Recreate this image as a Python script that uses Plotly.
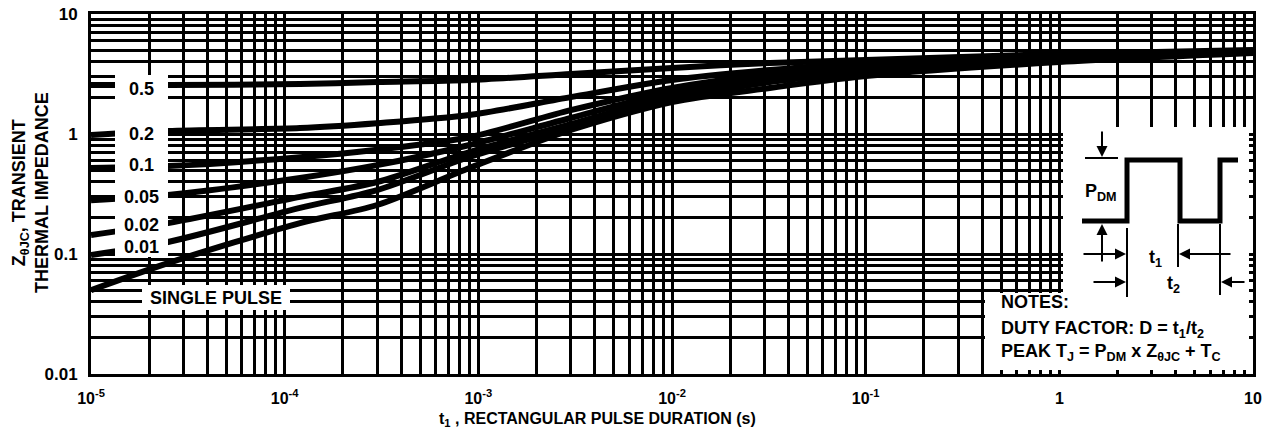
import plotly.graph_objects as go

# ---------------- data ----------------
t_s = [1e-5, 2.5e-5, 1.2e-4, 3e-4, 9e-4, 3e-3, 1e-2, 3.2e-2, 0.1, 1, 10]
z_d05 = [2.56, 2.56, 2.61, 2.71, 2.82, 3.16, 3.55, 3.91, 4.14, 4.64, 5.01]
z_d02 = [0.98, 1.06, 1.12, 1.23, 1.44, 2.03, 2.82, 3.41, 3.91, 4.47, 4.92]
z_d01 = [0.52, 0.54, 0.64, 0.74, 0.94, 1.58, 2.42, 3.16, 3.69, 4.38, 4.87]
z_d005 = [0.28, 0.31, 0.43, 0.55, 0.81, 1.36, 2.24, 2.98, 3.55, 4.30, 4.82]
z_d002 = [0.144, 0.181, 0.299, 0.398, 0.708, 1.21, 2.07, 2.82, 3.41, 4.22, 4.82]
z_d001 = [0.098, 0.126, 0.242, 0.341, 0.643, 1.14, 1.96, 2.71, 3.29, 4.14, 4.77]
z_single = [0.05, 0.084, 0.181, 0.256, 0.521, 1.08, 1.85, 2.42, 3.04, 3.98, 4.73]

series_labels = ["0.5", "0.2", "0.1", "0.05", "0.02", "0.01"]
x_major = [1e-5, 1e-4, 1e-3, 1e-2, 1e-1, 1, 10]
x_major_text = ["10<sup>-5</sup>", "10<sup>-4</sup>", "10<sup>-3</sup>",
                "10<sup>-2</sup>", "10<sup>-1</sup>", "1", "10"]
y_major = [0.01, 0.1, 1, 10]
y_major_text = ["0.01", "0.1", "1", "10"]

# ---------------- layout geometry (pixels) ----------------
W, H = 1277, 440
L, R, T, B = 91, 1253, 14, 374


def px(xp):
    return (xp - L) / (R - L)


def py(yp):
    return (B - yp) / (B - T)


FONT = "Liberation Sans, Arial, Helvetica, sans-serif"

fig = go.Figure()
for z in [z_d05, z_d02, z_d01, z_d005, z_d002, z_d001, z_single]:
    fig.add_trace(go.Scatter(x=t_s, y=z, mode="lines",
                             line=dict(color="black", width=6, shape="spline", smoothing=0.8),
                             showlegend=False, hoverinfo="skip"))

# minor grid positions (2..9 in every decade)
x_minor = [k * 10 ** n for n in range(-5, 1) for k in range(2, 10)]
y_minor = [k * 10 ** n for n in range(-2, 1) for k in range(2, 10)]

axis_common = dict(type="log", showgrid=True, gridcolor="black", gridwidth=2.6,
                   showline=True, linecolor="black", linewidth=3, mirror=True,
                   ticks="", zeroline=False, tickmode="array", automargin=False)
fig.update_xaxes(range=[-5, 1], tickvals=x_major, ticktext=x_major_text, ticklabelstandoff=8,
                 tickfont=dict(family=FONT, size=16, color="black", weight="bold"),
                 minor=dict(tickmode="array", tickvals=x_minor, showgrid=True,
                            gridcolor="black", gridwidth=2.6, ticks=""),
                 **axis_common)
fig.update_yaxes(range=[-2, 1], tickvals=y_major, ticktext=y_major_text, ticklabelstandoff=7,
                 tickfont=dict(family=FONT, size=17, color="black", weight="bold"),
                 minor=dict(tickmode="array", tickvals=y_minor, showgrid=True,
                            gridcolor="black", gridwidth=2.6, ticks=""),
                 **axis_common)

shapes = []
white = dict(type="rect", xref="paper", yref="paper", fillcolor="white",
             line=dict(width=0), layer="above")
# label box
shapes.append(dict(white, x0=px(115), x1=px(168), y0=py(257), y1=py(75)))
# single pulse box
shapes.append(dict(white, x0=px(142), x1=px(290), y0=py(310), y1=py(285)))
# inset box + notes box
shapes.append(dict(white, x0=px(1063), x1=px(1249), y0=py(370), y1=py(127)))
shapes.append(dict(white, x0=px(985), x1=px(1249), y0=py(370), y1=py(293)))

# pulse waveform
wave = [(1082, 221), (1127, 221), (1127, 160), (1180, 160), (1180, 221),
        (1220, 221), (1220, 160), (1238, 160)]
path = "M " + " L ".join(f"{px(a):.5f},{py(b):.5f}" for a, b in wave)
shapes.append(dict(type="path", xref="paper", yref="paper", path=path,
                   line=dict(color="black", width=5), layer="above"))


def seg(x0, y0, x1, y1, w=2):
    shapes.append(dict(type="line", xref="paper", yref="paper",
                       x0=px(x0), y0=py(y0), x1=px(x1), y1=py(y1),
                       line=dict(color="black", width=w), layer="above"))


seg(1085, 158, 1118, 158)           # P_DM top reference
seg(1127, 228, 1127, 297)           # t1 / t2 left
seg(1178, 224, 1178, 267)           # t1 right
seg(1220, 224, 1220, 295)           # t2 right
fig.update_layout(shapes=shapes)

ann = []


def arrow(xh, yh, xt_, yt_):
    ann.append(dict(xref="paper", yref="paper", x=px(xh), y=py(yh), text="",
                    showarrow=True, arrowhead=2, arrowsize=1.1, arrowwidth=2,
                    arrowcolor="black", ax=xt_ - xh, ay=yt_ - yh))


arrow(1102, 157, 1102, 130)     # P_DM down
arrow(1102, 224, 1102, 263)     # P_DM up
arrow(1126, 254, 1082, 254)     # t1 from left
arrow(1179, 254, 1232, 254)     # t1 from right
arrow(1126, 282, 1092, 282)     # t2 from left
arrow(1221, 282, 1246, 282)     # t2 from right


def text(x, y, s, size=18, xanchor="center", angle=0):
    ann.append(dict(xref="paper", yref="paper", x=px(x), y=py(y), text=s,
                    showarrow=False, xanchor=xanchor, yanchor="middle", textangle=angle,
                    font=dict(family=FONT, size=size, color="black", weight="bold")))


label_y = [89, 134, 165, 197, 225, 247]
for lab, yy in zip(series_labels, label_y):
    text(141, yy, lab, size=18)
text(216, 298, "SINGLE PULSE", size=18)

text(1101, 192, "P<sub>DM</sub>", size=18)
text(1155, 258, "t<sub>1</sub>", size=18)
text(1173, 284, "t<sub>2</sub>", size=18)
text(999, 302, "NOTES:", size=18, xanchor="left")
text(999, 329, "DUTY FACTOR: D = t<sub>1</sub>/t<sub>2</sub>", size=18, xanchor="left")
text(999, 352, "PEAK T<sub>J</sub> = P<sub>DM</sub> x Z<sub>θJC</sub> + T<sub>C</sub>",
     size=18, xanchor="left")

text(597, 419, "t<sub>1</sub> , RECTANGULAR PULSE DURATION (s)", size=16)
text(30, 193, "Z<sub>θJC</sub>, TRANSIENT<br>THERMAL IMPEDANCE", size=18, angle=-90)

fig.update_layout(annotations=ann, width=W, height=H,
                  margin=dict(l=L, r=W - R, t=T, b=H - B, pad=0, autoexpand=False),
                  paper_bgcolor="white", plot_bgcolor="white")

fig.write_html("out.html", config={"displayModeBar": False},
               post_script="document.body.style.margin='0';document.body.style.overflow='hidden';")
